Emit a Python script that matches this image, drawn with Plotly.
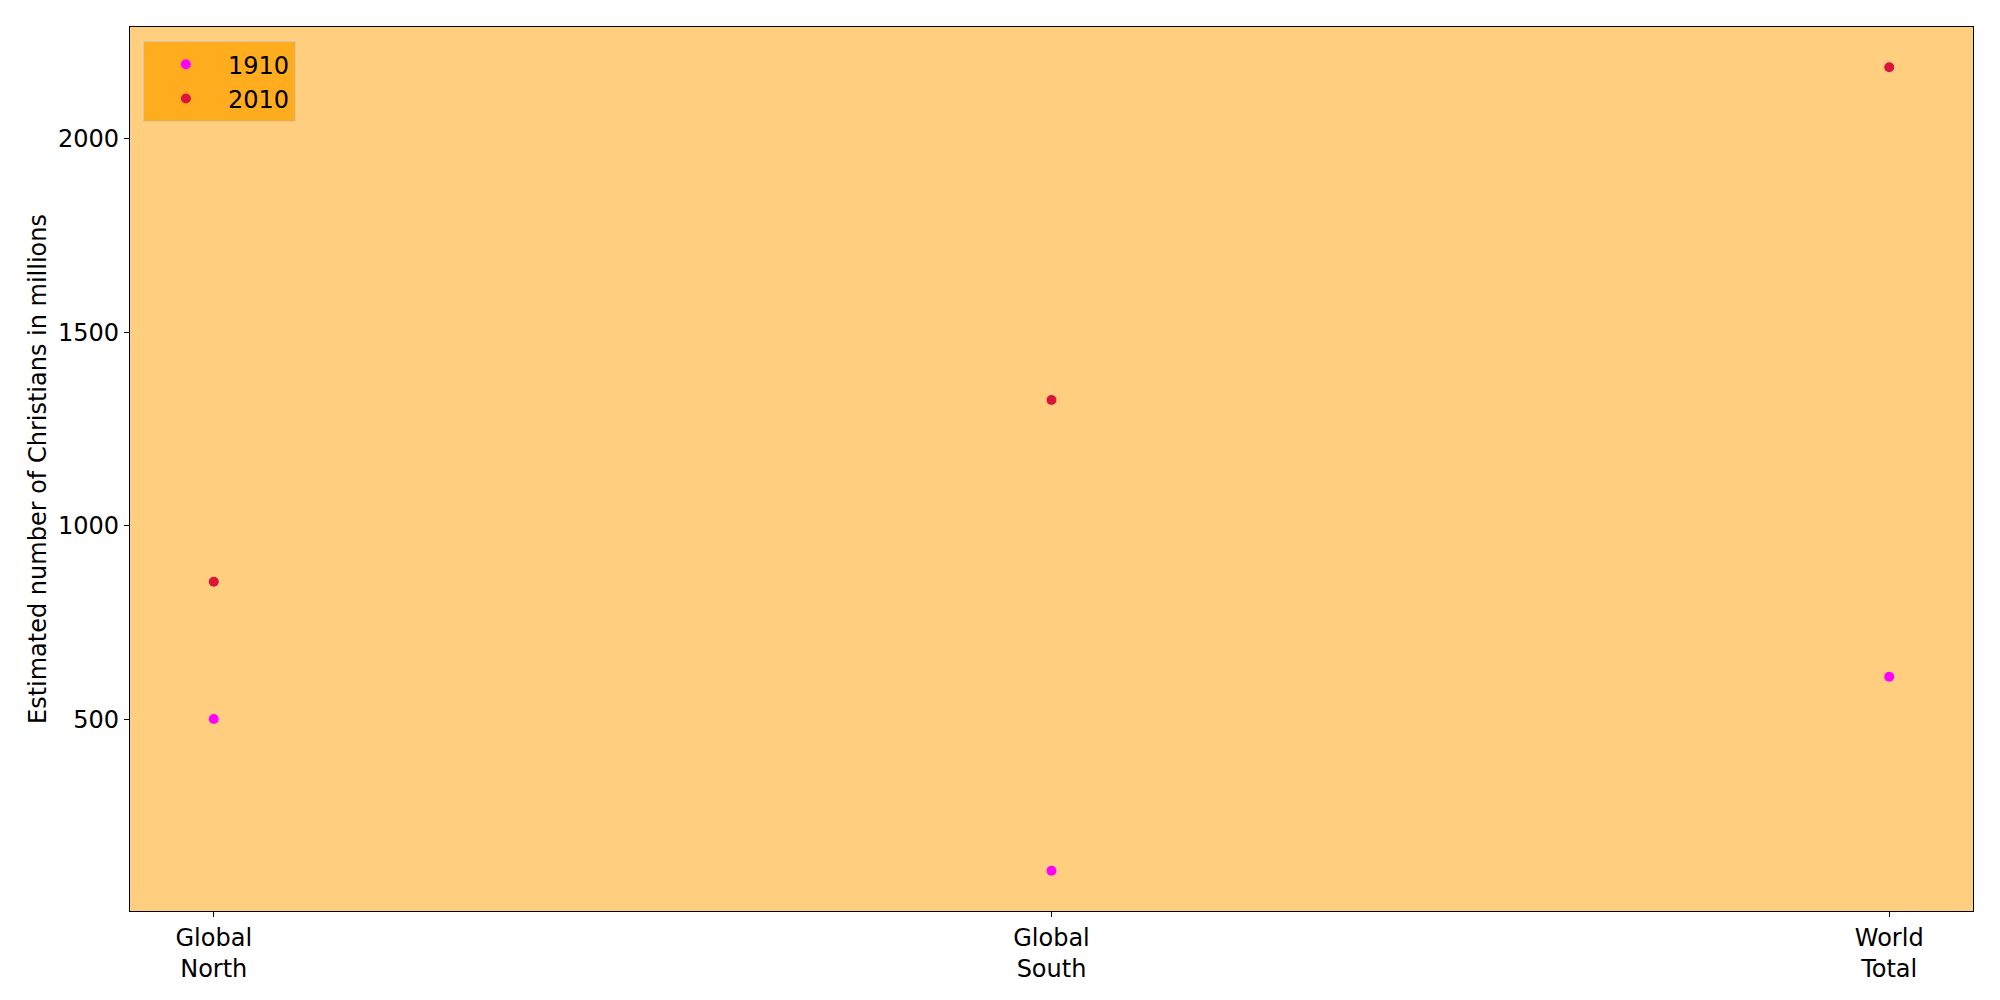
import plotly.graph_objects as go

categories = ["Global<br>North", "Global<br>South", "World<br>Total"]
values_1910 = [502, 110, 611]
values_2010 = [856, 1325, 2184]
series_names = ["1910", "2010"]
y_ticks = [500, 1000, 1500, 2000]

x_idx = list(range(len(categories)))
font = "DejaVu Sans"

fig = go.Figure()
fig.add_trace(go.Scatter(x=x_idx, y=values_1910, mode="markers", name=series_names[0],
                         marker=dict(color="#FF00FF", size=10, line=dict(width=0))))
fig.add_trace(go.Scatter(x=x_idx, y=values_2010, mode="markers", name=series_names[1],
                         marker=dict(color="#DC143C", size=10, line=dict(width=0))))

ymin = min(values_1910 + values_2010)
ymax = max(values_1910 + values_2010)
pad = (ymax - ymin) * 0.05

fig.update_layout(
    width=2000, height=1000,
    margin=dict(l=130, r=27, t=27, b=89),
    paper_bgcolor="white",
    plot_bgcolor="#FFCF7F",
    font=dict(family=font, size=24, color="black"),
    showlegend=True,
    legend=dict(x=0.007, y=0.984, xanchor="left", yanchor="top",
                bgcolor="#FFAC1E", bordercolor="#D8C8A8", borderwidth=1,
                font=dict(size=24), itemsizing="trace", itemwidth=74),
    xaxis=dict(range=[-0.1, 2.1], tickmode="array", tickvals=x_idx, ticktext=categories,
               showgrid=False, zeroline=False, showline=True, linecolor="black", linewidth=1.3,
               mirror=True, ticks="outside", ticklen=5, tickcolor="black",
               tickfont=dict(size=24)),
    yaxis=dict(range=[ymin - pad, ymax + pad], tickmode="array", tickvals=y_ticks,
               showgrid=False, zeroline=False, showline=True, linecolor="black", linewidth=1.3,
               mirror=True, ticks="outside", ticklen=5, tickcolor="black",
               tickfont=dict(size=24),
               title=dict(text="Estimated number of Christians in millions", font=dict(size=24), standoff=4)),
)

fig.write_html("out.html")
